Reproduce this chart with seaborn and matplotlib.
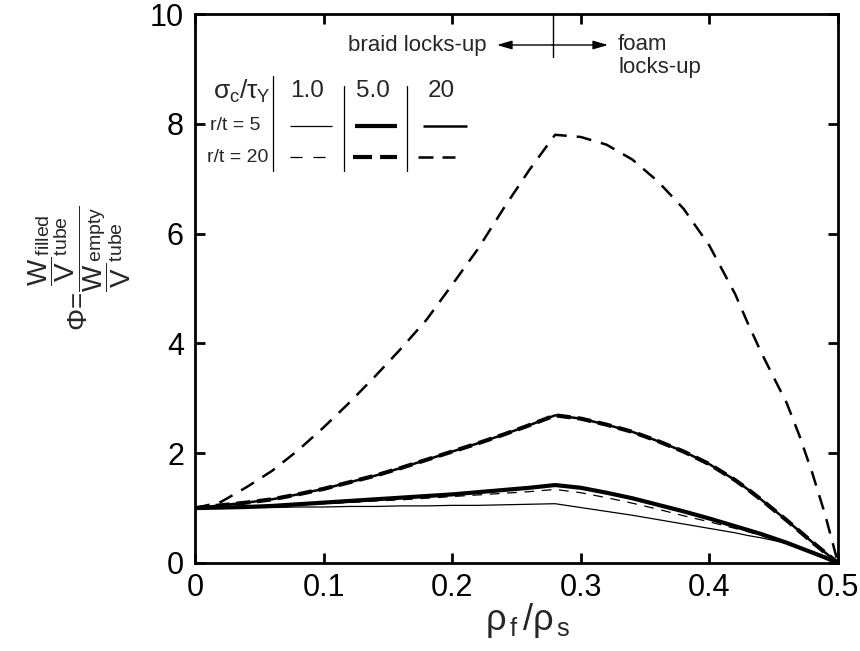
import numpy as np
import pandas as pd
import matplotlib
matplotlib.use("Agg")
import matplotlib.pyplot as plt
import seaborn as sns

# ---------------- data ----------------
rho_ratio = [0.00, 0.02, 0.04, 0.06, 0.08, 0.10, 0.12, 0.14, 0.16, 0.18,
             0.20, 0.22, 0.24, 0.26, 0.28, 0.30, 0.32, 0.34, 0.36, 0.38,
             0.40, 0.42, 0.43, 0.44, 0.45, 0.46, 0.47, 0.48, 0.49, 0.50]

phi_s1_rt5 = [1.00, 1.00, 1.01, 1.01, 1.02, 1.02, 1.03, 1.03, 1.04, 1.04,
              1.05, 1.05, 1.06, 1.07, 1.08, 1.01, 0.94, 0.87, 0.79, 0.71,
              0.63, 0.55, 0.50, 0.46, 0.41, 0.36, 0.29, 0.21, 0.11, 0.00]
phi_s1_rt20 = [1.00, 1.01, 1.02, 1.04, 1.06, 1.08, 1.10, 1.13, 1.15, 1.18,
               1.21, 1.24, 1.27, 1.30, 1.34, 1.28, 1.19, 1.09, 0.98, 0.86,
               0.75, 0.63, 0.57, 0.50, 0.43, 0.36, 0.28, 0.19, 0.10, 0.00]
phi_s5_rt5 = [1.00, 1.01, 1.02, 1.04, 1.07, 1.10, 1.13, 1.16, 1.19, 1.22,
              1.25, 1.29, 1.33, 1.37, 1.42, 1.37, 1.28, 1.18, 1.06, 0.94,
              0.81, 0.67, 0.60, 0.53, 0.45, 0.37, 0.28, 0.19, 0.10, 0.00]
phi_s5_rt20 = [1.00, 1.05, 1.10, 1.16, 1.25, 1.35, 1.47, 1.59, 1.73, 1.88,
               2.03, 2.18, 2.34, 2.51, 2.69, 2.63, 2.52, 2.39, 2.22, 2.03,
               1.80, 1.51, 1.34, 1.16, 0.97, 0.78, 0.58, 0.38, 0.19, 0.00]
phi_s20_rt5 = [1.00, 1.05, 1.10, 1.16, 1.25, 1.35, 1.47, 1.59, 1.73, 1.88,
               2.03, 2.18, 2.34, 2.51, 2.69, 2.63, 2.52, 2.39, 2.22, 2.03,
               1.80, 1.51, 1.34, 1.16, 0.97, 0.78, 0.58, 0.38, 0.19, 0.00]
phi_s20_rt20 = [1.00, 1.11, 1.38, 1.68, 2.05, 2.47, 2.92, 3.40, 3.90, 4.43,
                5.07, 5.72, 6.46, 7.16, 7.80, 7.76, 7.62, 7.35, 6.95, 6.45,
                5.78, 4.90, 4.36, 3.85, 3.38, 2.92, 2.32, 1.64, 0.88, 0.00]

x_ticks = [0, 0.1, 0.2, 0.3, 0.4, 0.5]
x_tick_labels = ["0", "0.1", "0.2", "0.3", "0.4", "0.5"]
y_ticks = [0, 2, 4, 6, 8, 10]
y_tick_labels = ["0", "2", "4", "6", "8", "10"]

sigma_labels = ["1.0", "5.0", "20"]
rt_labels = ["r/t = 5", "r/t = 20"]
lockup_rho = 0.278

# ---------------- style ----------------
sns.set_theme(style="ticks")
plt.rcParams["font.family"] = ["Liberation Sans", "DejaVu Sans"]
plt.rcParams["mathtext.fontset"] = "custom"
plt.rcParams["mathtext.rm"] = "Liberation Sans"
plt.rcParams["mathtext.it"] = "Liberation Sans"
plt.rcParams["mathtext.bf"] = "Liberation Sans:bold"
plt.rcParams["lines.scale_dashes"] = False

W, H = 860, 651
fig = plt.figure(figsize=(W / 100, H / 100), dpi=100)
ax = fig.add_axes([195 / W, 1 - 563 / H, (838 - 195) / W, (563 - 14) / H])

thin, thick, mid = 0.9, 3.0, 1.8
dash_thin = (0, (7, 5.5))
dash_thick = (0, (10, 5))
dash_mid = (0, (10.8, 7.2))

series = [
    (phi_s1_rt5, thin, "-"),
    (phi_s1_rt20, thin, dash_thin),
    (phi_s5_rt5, thick, "-"),
    (phi_s5_rt20, thick, dash_thick),
    (phi_s20_rt5, mid, "-"),
    (phi_s20_rt20, mid, dash_mid),
]
for yvals, lw, ls in series:
    df = pd.DataFrame({"rho": rho_ratio, "phi": yvals})
    sns.lineplot(data=df, x="rho", y="phi", ax=ax, color="black",
                 linewidth=lw, linestyle=ls, errorbar=None, sort=True)

ax.set_xlim(0, 0.5)
ax.set_ylim(0, 10)
ax.set_xticks(x_ticks)
ax.set_xticklabels(x_tick_labels)
ax.set_yticks(y_ticks)
ax.set_yticklabels(y_tick_labels)
for s in ax.spines.values():
    s.set_linewidth(2.0)
    s.set_color("black")
ax.tick_params(direction="in", length=7, width=2, labelsize=22,
               top=True, right=True, colors="black")
ax.tick_params(axis="x", pad=7)
ax.tick_params(axis="y", pad=8)
ax.set_xlabel("")
ax.set_ylabel("")

fig.text(528 / W, 1 - 620 / H, r"ρ$_{\,f}\,$/ρ$_{\,s}$", fontsize=26,
         ha="center", va="center")
fig.text(80 / W, 1 - 268 / H,
         r"$\Phi\!=\!\dfrac{\dfrac{W}{V}{}^{\mathrm{filled}}_{\mathrm{tube}}}"
         r"{\dfrac{W}{V}{}^{\mathrm{empty}}_{\mathrm{tube}}}$",
         fontsize=20, rotation=90, ha="center", va="center")


def P(px, py):
    """figure pixel -> axes fraction"""
    return ((px - 195) / (838 - 195), (563 - py) / (563 - 14))


tr = ax.transAxes
# lock-up annotation
ax.axvline(lockup_rho, ymin=P(0, 57)[1], ymax=1, color="black", lw=1.0)
for tip in (497, 608):
    ax.annotate("", xy=P(tip, 45), xytext=P(552, 45), xycoords=tr,
                textcoords=tr,
                arrowprops=dict(arrowstyle="-|>,head_length=0.75,head_width=0.22",
                                color="black", lw=1.0, shrinkA=0, shrinkB=0))
ax.text(*P(487, 45), "braid locks-up", transform=tr, ha="right", va="center",
        fontsize=16)
ax.text(*P(618, 45), "foam", transform=tr, ha="left", va="center", fontsize=16)
ax.text(*P(618, 67), "locks-up", transform=tr, ha="left", va="center",
        fontsize=16)

# legend table
ax.text(*P(271, 91), r"$\sigma_{\mathrm{c}}/\tau_{\mathrm{Y}}$", transform=tr,
        ha="right", va="center", fontsize=19)
for lab, cx in zip(sigma_labels, [307, 373, 441]):
    ax.text(*P(cx, 91), lab, transform=tr, ha="center", va="center",
            fontsize=17.5)
for lab, (rx, ry) in zip(rt_labels, [(261, 126), (268, 157)]):
    ax.text(*P(rx, ry), lab, transform=tr, ha="right", va="center", fontsize=14)
for vx, top in [(273, 76), (344, 86), (407, 86)]:
    a, b = P(vx, top), P(vx, 171)
    ax.plot([a[0], b[0]], [a[1], b[1]], transform=tr, color="black", lw=0.9,
            clip_on=False)
solid_cols = [(290, 332, thin), (355, 397, thick), (423, 467, mid)]
dash_cols = [(290, 325, thin, (0, (8.6, 8))),
             (353, 397, thick, (0, (13.7, 5.8))),
             (418, 455, mid, (0, (10.8, 6.5)))]
for x0, x1, lw in solid_cols:
    a, b = P(x0, 126), P(x1, 126)
    ax.plot([a[0], b[0]], [a[1], b[1]], transform=tr, color="black", lw=lw,
            solid_capstyle="butt")
for x0, x1, lw, dsh in dash_cols:
    a, b = P(x0, 157), P(x1, 157)
    ax.plot([a[0], b[0]], [a[1], b[1]], transform=tr, color="black", lw=lw,
            linestyle=dsh, dash_capstyle="butt")

fig.savefig("out.png", dpi=100)
